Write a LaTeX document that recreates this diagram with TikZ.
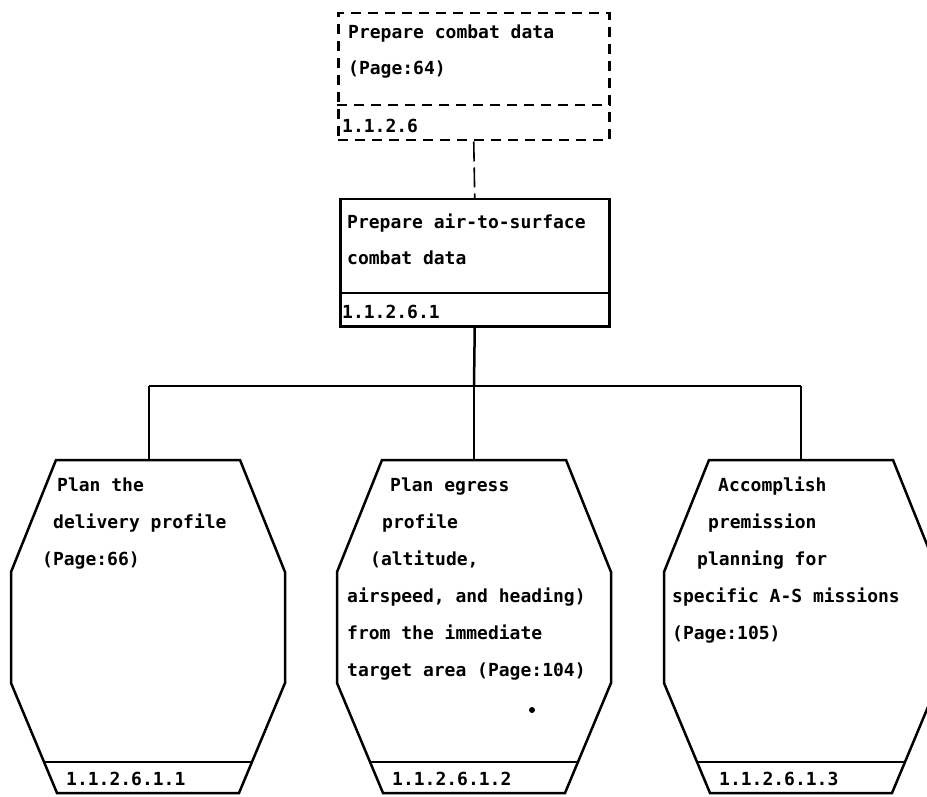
\documentclass[tikz,border=0pt]{standalone}
\usepackage{fontspec}
\setmonofont{DejaVu Sans Mono}
\usepackage{tikz}

\begin{document}
\begin{tikzpicture}[x=1pt,y=-1pt,
	every node/.style={font=\ttfamily\bfseries\fontsize{18}{37}\selectfont, inner sep=0pt},
	txt/.style={anchor=base west, align=left},
	box/.style={draw, rectangle, line width=2.5pt, anchor=north west},
	dashbox/.style={box, dash pattern=on 10pt off 7pt},
	link/.style={line width=2.5pt},
	task/.pic={
		\draw[line width=2.5pt] (-92,0) -- (92,0) -- (137,112) -- (137,223) -- (91,333) -- (-91,333) -- (-137,223) -- (-137,112) -- cycle;
		\draw[line width=2.5pt] (-104,302) -- (104,302);
		\coordinate (-top) at (0,0);
	}]

	\useasboundingbox (0,0) rectangle (927,797);
	\clip (0,0) rectangle (927,797);

	\node[dashbox, minimum width=271pt, minimum height=127pt] (combat) at (337,12) {};
	\path[link, dash pattern=on 10pt off 7pt] ([yshift=-93pt]combat.north west) edge ([yshift=-93pt]combat.north east);
	\node[txt] (combattxt) at (348,75) {Prepare combat data\\[-1pt](Page:64)};
	\node[txt] (combatno) at (342,133) {1.1.2.6};

	\node[box, minimum width=269pt, minimum height=127pt] (asdata) at (339,198) {};
	\path[link] ([yshift=-95pt]asdata.north west) edge ([yshift=-95pt]asdata.north east);
	\node[txt] (astxt) at (347,264) {Prepare air-to-surface\\[-1pt]combat data};
	\node[txt] (asno) at (342,318) {1.1.2.6.1};

	\pic (delivery) at (148,460) {task};
	\pic (egress) at (474,460) {task};
	\pic (premission) at (801,460) {task};

	\node[txt] (deliverytxt) at (42,565) {\hspace*{15pt}Plan the\\\hspace*{11pt}delivery profile\\(Page:66)};
	\node[txt] (deliveryno) at (66,785) {1.1.2.6.1.1};
	\node[txt] (egresstxt) at (347,676) {\hspace*{43pt}Plan egress\\\hspace*{35pt}profile\\\hspace*{23pt}(altitude,\\airspeed, and heading)\\from the immediate\\target area (Page:104)};
	\node[txt] (egressno) at (392,785) {1.1.2.6.1.2};
	\node[txt] (premissiontxt) at (672,639) {\hspace*{46pt}Accomplish\\\hspace*{36pt}premission\\\hspace*{25pt}planning for\\specific A-S missions\\(Page:105)};
	\node[txt] (premissionno) at (719,785) {1.1.2.6.1.3};

	\coordinate (fork) at (474,386);
	\coordinate (forkl) at (149,386);
	\coordinate (forkr) at (801,386);

	\path[link, line width=1.6pt, dash pattern=on 20pt off 6pt] (combat.south) edge (asdata.north);
	\path[link] (asdata.south) edge (fork);
	\path[link] (forkl) edge (forkr);
	\path[link] (forkl) edge (forkl |- delivery-top);
	\path[link] (fork) edge (egress-top);
	\path[link] (forkr) edge (premission-top);

	\fill (532,710) circle (3pt);

\end{tikzpicture}
\end{document}
